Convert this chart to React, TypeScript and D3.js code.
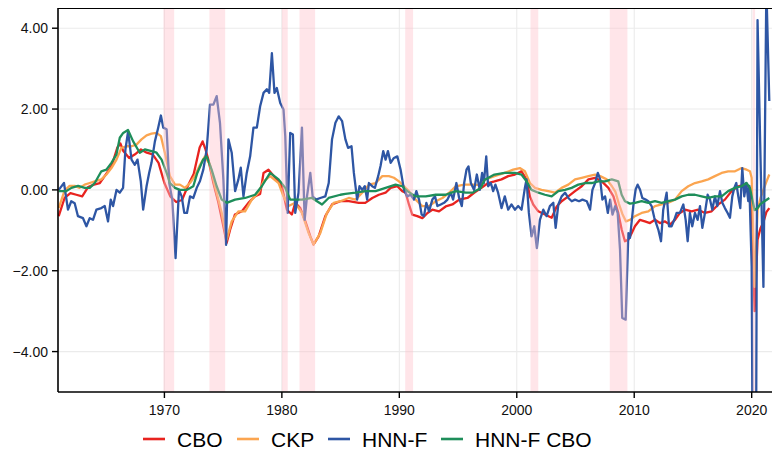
import React, { useEffect, useRef } from 'react';
import * as d3 from 'd3';

// output gap estimates, [year, value]
const cbo: [number, number][] = [
  [1961.0, -0.65], [1961.5, -0.2], [1962.0, -0.08], [1962.5, -0.12], [1963.0, -0.16], [1963.5, 0.07],
  [1964.0, 0.13], [1964.5, 0.17], [1965.0, 0.38], [1965.5, 0.59], [1966.0, 1.05], [1966.25, 1.15],
  [1966.5, 0.96], [1967.0, 0.79], [1967.5, 0.88], [1968.0, 1.0], [1968.5, 0.92], [1969.0, 0.88],
  [1969.5, 0.67], [1970.0, 0.17], [1970.5, -0.16], [1971.0, -0.3], [1971.5, -0.25], [1972.0, 0.1],
  [1972.5, 0.4], [1973.0, 1.05], [1973.25, 1.2], [1973.5, 1.0], [1973.74, 0.75], [1974.17, 0.17],
  [1974.6, -0.32], [1975.02, -0.9], [1975.3, -1.31], [1975.6, -0.98], [1976.0, -0.61], [1976.6, -0.53],
  [1977.15, -0.32], [1977.7, -0.16], [1978.15, -0.1], [1978.44, 0.42], [1978.86, 0.5], [1979.43, 0.3],
  [1980.0, 0.09], [1980.43, -0.49], [1980.85, -0.61], [1981.14, -0.32], [1981.57, -0.45], [1982.0, -0.78],
  [1982.42, -1.15], [1982.7, -1.35], [1983.13, -1.15], [1983.7, -0.65], [1984.27, -0.36], [1984.98, -0.28],
  [1985.7, -0.28], [1986.55, -0.32], [1987.1, -0.32], [1987.7, -0.2], [1988.26, -0.12], [1988.83, -0.07],
  [1989.26, 0.05], [1989.83, 0.09], [1990.25, -0.03], [1990.54, -0.07], [1990.82, -0.36], [1991.1, -0.61],
  [1991.53, -0.65], [1991.96, -0.7], [1992.4, -0.57], [1992.81, -0.49], [1993.38, -0.53], [1993.95, -0.41],
  [1994.52, -0.36], [1995.1, -0.24], [1995.8, -0.2], [1996.37, -0.07], [1996.99, 0.05], [1997.56, 0.17],
  [1998.1, 0.21], [1998.7, 0.26], [1999.27, 0.34], [1999.84, 0.38], [2000.4, 0.46], [2000.83, 0.26],
  [2001.12, -0.16], [2001.4, -0.36], [2001.83, -0.53], [2002.4, -0.61], [2002.97, -0.69], [2003.4, -0.41],
  [2003.82, -0.28], [2004.39, -0.16], [2004.96, -0.03], [2005.53, 0.09], [2006.1, 0.26], [2006.67, 0.3],
  [2007.24, 0.21], [2007.8, 0.05], [2008.23, -0.16], [2008.64, -0.57], [2008.93, -0.98], [2009.21, -1.27],
  [2009.5, -1.23], [2009.78, -1.07], [2010.06, -0.9], [2010.49, -0.74], [2010.91, -0.78], [2011.34, -0.82],
  [2011.77, -0.74], [2012.19, -0.82], [2012.62, -0.78], [2013.04, -0.86], [2013.47, -0.74], [2013.89, -0.57],
  [2014.32, -0.49], [2014.89, -0.53], [2015.45, -0.49], [2016.02, -0.57], [2016.59, -0.53], [2017.16, -0.36],
  [2017.72, -0.24], [2018.29, -0.03], [2018.86, 0.09], [2019.43, 0.13], [2019.75, 0.09], [2020.0, -0.4],
  [2020.25, -3.0], [2020.5, -1.23], [2020.75, -0.95], [2021.0, -0.8], [2021.25, -0.55], [2021.5, -0.45],
];

const ckp: [number, number][] = [
  [1961.0, -0.45], [1961.5, -0.02], [1961.93, 0.1], [1962.36, 0.1], [1962.78, 0.05], [1963.21, 0.13],
  [1963.64, 0.17], [1964.07, 0.21], [1964.63, 0.26], [1965.06, 0.38], [1965.49, 0.54], [1965.92, 0.75],
  [1966.34, 1.04], [1966.77, 1.08], [1967.2, 1.08], [1967.62, 1.12], [1968.05, 1.25], [1968.48, 1.35],
  [1968.9, 1.39], [1969.33, 1.41], [1969.7, 1.33], [1970.04, 0.92], [1970.47, 0.34], [1970.9, 0.13],
  [1971.32, 0.13], [1971.75, 0.05], [1972.18, 0.17], [1972.6, 0.35], [1973.03, 0.62], [1973.45, 0.83],
  [1973.88, 0.62], [1974.3, 0.09], [1974.88, -0.57], [1975.3, -1.23], [1975.73, -0.78], [1976.3, -0.53],
  [1976.87, -0.53], [1977.44, -0.24], [1978.0, -0.07], [1978.44, 0.21], [1979.0, 0.34], [1979.72, 0.17],
  [1980.14, -0.16], [1980.57, -0.4], [1981.14, -0.32], [1981.71, -0.57], [1982.28, -1.07], [1982.7, -1.35],
  [1983.27, -1.07], [1983.84, -0.57], [1984.41, -0.32], [1984.98, -0.28], [1985.7, -0.2], [1986.27, -0.24],
  [1986.84, -0.07], [1987.41, 0.13], [1987.98, 0.17], [1988.55, 0.34], [1989.11, 0.34], [1989.54, 0.3],
  [1989.97, 0.21], [1990.4, 0.09], [1990.82, -0.03], [1991.39, -0.24], [1991.96, -0.4], [1992.53, -0.4],
  [1993.1, -0.28], [1993.67, -0.2], [1994.24, -0.07], [1994.8, 0.09], [1995.52, 0.13], [1996.23, 0.13],
  [1996.94, 0.12], [1997.27, 0.25], [1998.1, 0.34], [1998.96, 0.42], [1999.69, 0.5], [2000.26, 0.54],
  [2000.69, 0.46], [2001.12, 0.17], [2001.55, 0.05], [2002.11, 0.0], [2002.68, -0.03], [2003.25, -0.07],
  [2003.82, 0.05], [2004.39, 0.13], [2004.96, 0.26], [2005.53, 0.3], [2006.1, 0.34], [2006.67, 0.38],
  [2007.1, 0.34], [2007.66, 0.26], [2008.1, 0.09], [2008.4, -0.05], [2008.7, -0.35], [2009.0, -0.6],
  [2009.3, -0.78], [2009.64, -0.74], [2010.06, -0.65], [2010.63, -0.57], [2011.2, -0.53], [2011.77, -0.4],
  [2012.33, -0.36], [2012.9, -0.32], [2013.47, -0.24], [2014.04, -0.03], [2014.6, 0.09], [2015.17, 0.17],
  [2015.74, 0.21], [2016.3, 0.26], [2016.87, 0.34], [2017.44, 0.42], [2018.0, 0.46], [2018.58, 0.46],
  [2019.14, 0.54], [2019.57, 0.5], [2019.85, 0.46], [2020.0, 0.3], [2020.25, -2.4], [2020.5, -0.5],
  [2020.75, -0.2], [2021.0, 0.0], [2021.25, 0.2], [2021.5, 0.38],
];

const hnnf: [number, number][] = [
  [1961.0, 0.0], [1961.45, 0.17], [1961.79, -0.49], [1962.07, -0.28], [1962.36, -0.33], [1962.64, -0.65],
  [1963.07, -0.7], [1963.36, -0.9], [1963.64, -0.7], [1963.92, -0.74], [1964.21, -0.49], [1964.63, -0.45],
  [1964.92, -0.4], [1965.2, -0.78], [1965.43, -0.24], [1965.63, -0.4], [1965.92, 0.0], [1966.2, -0.07],
  [1966.48, 0.05], [1966.68, 1.0], [1966.91, 1.45], [1967.2, 0.75], [1967.48, 0.62], [1967.71, 0.75],
  [1967.99, 0.21], [1968.19, -0.49], [1968.48, 0.09], [1968.7, 0.42], [1968.9, 0.67], [1969.19, 1.2],
  [1969.47, 1.54], [1969.7, 1.84], [1969.9, 1.54], [1970.19, 1.5], [1970.41, 0.17], [1970.67, -0.24],
  [1970.95, -1.69], [1971.24, 0.0], [1971.47, -0.16], [1971.69, -0.57], [1971.92, -0.57], [1972.18, -0.16],
  [1972.46, -0.2], [1972.75, 0.05], [1973.03, 0.22], [1973.31, 0.5], [1973.6, 1.0], [1973.88, 2.11],
  [1974.17, 2.11], [1974.45, 2.32], [1974.73, 1.66], [1975.02, 0.26], [1975.25, -1.36], [1975.45, 1.25],
  [1975.73, 0.92], [1976.02, -0.03], [1976.3, 0.26], [1976.5, 0.55], [1976.73, -0.16], [1977.01, 0.42],
  [1977.3, 0.83], [1977.58, 1.54], [1977.87, 1.54], [1978.15, 2.07], [1978.44, 2.4], [1978.72, 2.49],
  [1978.92, 2.4], [1979.15, 3.38], [1979.37, 2.4], [1979.57, 2.52], [1979.86, 2.15], [1980.14, 1.99],
  [1980.29, 1.33], [1980.49, -0.57], [1980.71, 1.41], [1980.94, 1.37], [1981.14, -0.57], [1981.42, -0.07],
  [1981.71, 1.54], [1981.94, -0.74], [1982.14, -0.16], [1982.42, 0.42], [1982.62, -0.16], [1982.9, -0.24],
  [1983.27, -0.2], [1983.7, -0.16], [1983.99, 0.17], [1984.27, 1.25], [1984.56, 1.66], [1984.84, 1.82],
  [1985.13, 1.7], [1985.41, 1.25], [1985.64, 1.04], [1985.93, 1.08], [1986.13, 0.42], [1986.41, -0.24],
  [1986.61, 0.09], [1986.84, 0.0], [1987.06, 0.09], [1987.26, -0.24], [1987.41, 0.17], [1987.69, 0.09],
  [1987.92, 0.05], [1988.2, 0.34], [1988.4, 0.59], [1988.63, 0.96], [1988.83, 0.75], [1989.03, 0.96],
  [1989.26, 0.67], [1989.54, 0.79], [1989.83, 0.83], [1990.11, 0.5], [1990.4, 0.0], [1990.68, -0.16],
  [1990.96, -0.12], [1991.25, -0.24], [1991.45, -0.03], [1991.68, -0.24], [1991.9, -0.61], [1992.1, -0.65],
  [1992.3, -0.32], [1992.53, -0.53], [1992.81, -0.24], [1993.04, -0.16], [1993.24, -0.4], [1993.53, -0.36],
  [1993.81, -0.32], [1994.1, -0.24], [1994.38, -0.07], [1994.58, -0.24], [1994.86, 0.17], [1995.09, -0.2],
  [1995.32, -0.4], [1995.52, 0.17], [1995.72, 0.5], [1995.89, 0.58], [1996.09, 0.17], [1996.37, 0.0],
  [1996.6, 0.38], [1996.85, 0.0], [1997.05, 0.42], [1997.2, 0.17], [1997.4, 0.83], [1997.56, 0.09],
  [1997.79, 0.17], [1997.99, -0.03], [1998.18, 0.13], [1998.41, -0.07], [1998.7, -0.45], [1998.98, -0.16],
  [1999.27, -0.49], [1999.55, -0.36], [1999.84, -0.49], [2000.12, -0.4], [2000.41, -0.49], [2000.69, 0.05],
  [2000.83, 0.26], [2001.03, -0.57], [2001.26, -1.15], [2001.49, -0.9], [2001.71, -1.44], [2001.97, -0.74],
  [2002.26, -0.49], [2002.54, -0.65], [2002.82, -0.4], [2003.11, -0.32], [2003.31, -0.94], [2003.54, -0.36],
  [2003.82, -0.16], [2004.11, -0.07], [2004.39, -0.2], [2004.68, -0.28], [2004.96, -0.24], [2005.3, -0.28],
  [2005.59, -0.24], [2005.96, -0.28], [2006.24, -0.49], [2006.44, 0.0], [2006.67, 0.17], [2006.9, 0.42],
  [2007.1, 0.26], [2007.29, -0.24], [2007.52, -0.16], [2007.75, -0.57], [2007.95, -0.24], [2008.15, -0.61],
  [2008.38, -0.4], [2008.59, -0.57], [2008.79, -1.48], [2008.98, -3.17], [2009.27, -3.21], [2009.5, -1.07],
  [2009.64, -1.19], [2009.92, -0.4], [2010.12, 0.01], [2010.29, 0.13], [2010.49, 0.01], [2010.69, -0.2],
  [2010.97, -0.24], [2011.2, -0.28], [2011.48, -0.4], [2011.71, -0.69], [2012.05, -0.98], [2012.28, -1.27],
  [2012.47, -0.49], [2012.76, -0.07], [2012.96, -0.9], [2013.18, -0.9], [2013.41, -0.74], [2013.61, -0.57],
  [2013.89, -0.57], [2014.18, -0.36], [2014.38, -0.74], [2014.55, -1.27], [2014.74, -0.57], [2014.94, -0.9],
  [2015.17, -0.57], [2015.4, -0.74], [2015.6, -0.4], [2015.8, -0.94], [2016.02, -0.57], [2016.25, -0.12],
  [2016.45, -0.24], [2016.65, -0.49], [2016.87, -0.16], [2017.07, -0.4], [2017.3, -0.03], [2017.5, -0.32],
  [2017.72, -0.45], [2017.95, -0.57], [2018.15, -0.69], [2018.35, -0.16], [2018.52, 0.05], [2018.69, 0.17],
  [2018.86, -0.16], [2019.03, -0.45], [2019.2, 0.54], [2019.37, -0.16], [2019.54, 0.17], [2019.71, -0.28],
  [2019.8, 0.1], [2020.0, -1.9], [2020.25, -16.5], [2020.5, 4.2], [2020.75, 0.8], [2021.0, -2.4],
  [2021.25, 5.0], [2021.5, 2.2],
];

const hnnfCbo: [number, number][] = [
  [1961.0, -0.03], [1961.65, -0.03], [1962.08, 0.05], [1962.65, 0.1], [1963.22, 0.05], [1963.64, 0.05],
  [1964.07, 0.17], [1964.63, 0.46], [1965.06, 0.5], [1965.49, 0.67], [1965.92, 0.88], [1966.2, 1.29],
  [1966.49, 1.41], [1966.9, 1.48], [1967.34, 1.2], [1967.9, 0.92], [1968.33, 1.0], [1968.9, 0.96],
  [1969.33, 0.92], [1969.76, 0.75], [1970.19, 0.42], [1970.47, 0.17], [1970.9, 0.05], [1971.32, 0.0],
  [1971.89, 0.0], [1972.46, 0.09], [1972.8, 0.42], [1973.3, 0.75], [1973.6, 0.83], [1974.02, 0.5],
  [1974.45, 0.09], [1974.88, -0.24], [1975.3, -0.32], [1976.02, -0.24], [1976.87, -0.2], [1977.72, -0.12],
  [1978.29, 0.09], [1979.0, 0.42], [1979.72, 0.26], [1980.29, 0.05], [1980.71, -0.24], [1981.71, -0.24],
  [1982.56, -0.2], [1983.42, -0.36], [1983.98, -0.2], [1984.98, -0.12], [1985.41, -0.1], [1986.27, -0.07],
  [1987.12, -0.03], [1987.98, -0.03], [1988.83, 0.05], [1989.68, 0.13], [1990.25, 0.09], [1990.68, -0.03],
  [1991.39, -0.16], [1992.25, -0.16], [1993.1, -0.12], [1993.95, -0.12], [1994.8, -0.03], [1995.66, -0.07],
  [1996.23, -0.07], [1996.94, 0.05], [1997.27, 0.25], [1998.1, 0.38], [1998.96, 0.42], [1999.84, 0.42],
  [2000.4, 0.38], [2000.83, 0.21], [2001.26, 0.0], [2001.84, -0.07], [2002.4, -0.12], [2002.97, -0.16],
  [2003.54, -0.03], [2004.1, 0.0], [2004.67, 0.05], [2005.24, 0.13], [2005.81, 0.17], [2006.38, 0.17],
  [2006.95, 0.21], [2007.52, 0.21], [2008.09, 0.26], [2008.64, 0.21], [2008.93, -0.12], [2009.21, -0.28],
  [2009.64, -0.34], [2010.06, -0.32], [2010.63, -0.28], [2011.2, -0.32], [2011.77, -0.28], [2012.33, -0.32],
  [2012.9, -0.28], [2013.47, -0.24], [2014.04, -0.16], [2014.6, -0.12], [2015.17, -0.12], [2015.74, -0.16],
  [2016.3, -0.2], [2016.87, -0.16], [2017.44, -0.16], [2018.0, -0.03], [2018.58, 0.05], [2019.14, 0.09],
  [2019.57, 0.17], [2019.85, 0.05], [2020.25, -0.5], [2020.5, -0.45], [2020.75, -0.35], [2021.0, -0.3],
  [2021.25, -0.25], [2021.5, -0.2],
];

// NBER recessions
const recessions: [number, number][] = [
  [1969.92, 1970.83], [1973.83, 1975.17], [1980.0, 1980.5], [1981.5, 1982.83],
  [1990.5, 1991.17], [2001.17, 2001.83], [2007.92, 2009.42], [2020.08, 2020.29],
];

const seriesNames = ['CBO', 'CKP', 'HNN-F', 'HNN-F CBO'];
const seriesColors = ['#e8231f', '#fba550', '#2e56a4', '#1e8e5a'];
const seriesData = [cbo, ckp, hnnf, hnnfCbo];
const yTicks = [-4, -2, 0, 2, 4];
const xTicks = [1970, 1980, 1990, 2000, 2010, 2020];

const W = 772;
const H = 449;
const margin = { top: 8, right: 0, bottom: 57, left: 58 };
const font = '"Liberation Sans", Arial, sans-serif';

const App = () => {
  const svgRef = useRef<SVGSVGElement>(null);

  useEffect(() => {
    const svg = d3.select(svgRef.current);
    svg.selectAll('*').remove();

    const x = d3.scaleLinear().domain([1960.94, 2021.73]).range([margin.left, W - margin.right]);
    const y = d3.scaleLinear().domain([-5, 4.5]).range([H - margin.bottom, margin.top]);
    const [x0, x1] = x.range();
    const [y0, y1] = y.range();

    svg.append('defs').append('clipPath').attr('id', 'panel')
      .append('rect').attr('x', x0).attr('y', y1).attr('width', x1 - x0).attr('height', y0 - y1);

    // rejilla
    const grid = svg.append('g').attr('stroke', '#ebebeb').attr('stroke-width', 1.1);
    yTicks.forEach(t => grid.append('line').attr('x1', x0).attr('x2', x1).attr('y1', y(t)).attr('y2', y(t)));
    xTicks.forEach(t => grid.append('line').attr('x1', x(t)).attr('x2', x(t)).attr('y1', y1).attr('y2', y0));

    const line = d3.line<[number, number]>().x(d => x(d[0])).y(d => y(d[1]));
    const plot = svg.append('g').attr('clip-path', 'url(#panel)');
    seriesData.forEach((s, i) => {
      plot.append('path').datum(s)
        .attr('d', line)
        .attr('fill', 'none')
        .attr('stroke', seriesColors[i])
        .attr('stroke-width', 2.3)
        .attr('stroke-linejoin', 'round');
    });

    // recesiones encima, semitransparentes
    plot.selectAll('rect.rec').data(recessions).join('rect')
      .attr('class', 'rec')
      .attr('x', d => x(d[0]))
      .attr('width', d => x(d[1]) - x(d[0]))
      .attr('y', y1)
      .attr('height', y0 - y1)
      .attr('fill', '#ffc0cb')
      .attr('opacity', 0.42);

    // ejes
    svg.append('line').attr('x1', x0).attr('x2', x1).attr('y1', y1 + 0.5).attr('y2', y1 + 0.5)
      .attr('stroke', '#000').attr('stroke-width', 1.2);
    svg.append('line').attr('x1', x0).attr('x2', x0).attr('y1', y1).attr('y2', y0)
      .attr('stroke', '#000').attr('stroke-width', 1.6);
    svg.append('line').attr('x1', x0).attr('x2', x1).attr('y1', y0).attr('y2', y0)
      .attr('stroke', '#000').attr('stroke-width', 1.6);

    yTicks.forEach(t => {
      svg.append('line').attr('x1', x0 - 6).attr('x2', x0).attr('y1', y(t)).attr('y2', y(t))
        .attr('stroke', '#000').attr('stroke-width', 1.4);
      svg.append('text').attr('x', x0 - 10).attr('y', y(t) + 5)
        .attr('text-anchor', 'end').attr('font-family', font).attr('font-size', 14).attr('fill', '#111')
        .text(d3.format('.2f')(t));
    });
    xTicks.forEach(t => {
      svg.append('line').attr('x1', x(t)).attr('x2', x(t)).attr('y1', y0).attr('y2', y0 + 6)
        .attr('stroke', '#000').attr('stroke-width', 1.4);
      svg.append('text').attr('x', x(t)).attr('y', y0 + 23)
        .attr('text-anchor', 'middle').attr('font-family', font).attr('font-size', 14).attr('fill', '#111')
        .text(t);
    });

    // leyenda
    const legendX = [143, 237, 328, 441];
    const legend = svg.append('g');
    seriesNames.forEach((name, i) => {
      legend.append('line').attr('x1', legendX[i]).attr('x2', legendX[i] + 22).attr('y1', 439).attr('y2', 439)
        .attr('stroke', seriesColors[i]).attr('stroke-width', 2.6);
      legend.append('text').attr('x', legendX[i] + 34).attr('y', 446.5)
        .attr('font-family', font).attr('font-size', 21).attr('fill', '#000')
        .text(name);
    });
  }, []);

  return (
    <svg ref={svgRef} width={W} height={H}
      style={{ position: 'absolute', left: 0, top: 0, background: '#fff' }} />
  );
};

export default App;
